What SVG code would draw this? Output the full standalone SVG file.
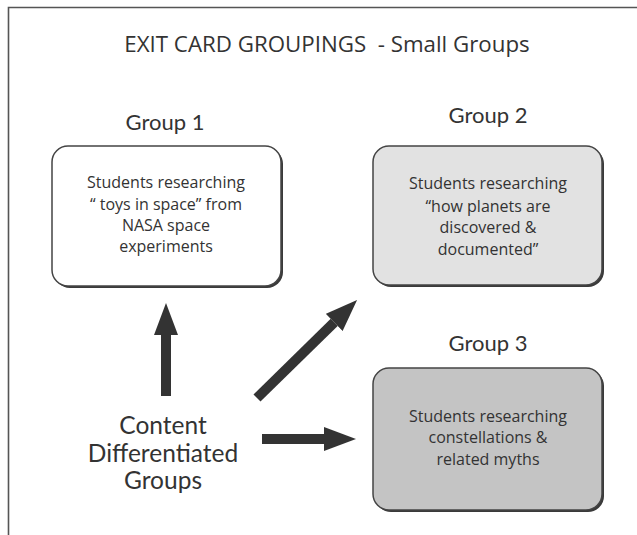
<svg xmlns="http://www.w3.org/2000/svg" width="637" height="535" viewBox="0 0 637 535">
<defs>
<style>
text{font-family:"Lato","Open Sans","Liberation Sans",sans-serif;fill:#333;text-anchor:middle}
.title{font-family:"Open Sans","Liberation Sans",sans-serif;font-size:22.3px}
.glabel{font-size:22px}
.body{font-family:"Open Sans","Liberation Sans",sans-serif;font-size:16px}
.big{font-size:24.5px}
.shadow{fill:#3a3a3a}
.box{stroke:#444;stroke-width:1.5}
.arrow{stroke:#333;stroke-width:10;fill:none;marker-end:url(#head)}
</style>
<marker id="head" markerUnits="userSpaceOnUse" viewBox="0 -12 32 24" refX="0" refY="0" markerWidth="32" markerHeight="24" orient="auto">
<path d="M0,-12 L32,0 L0,12 Z" fill="#333"/>
</marker>
</defs>
<rect width="637" height="535" fill="#fff"/>
<path d="M8.5,535 V7.5 H637" fill="none" stroke="#555" stroke-width="1.6"/>
<text class="title" x="327" y="52">EXIT CARD GROUPINGS&#160; - Small Groups</text>

<g id="group1">
<text class="glabel" x="165" y="130">Group 1</text>
<rect class="shadow" x="54" y="148" width="229" height="140" rx="16"/>
<rect class="box" x="52" y="146" width="229" height="140" rx="16" fill="#fff"/>
<text class="body" x="166" y="188">Students researching</text>
<text class="body" x="166" y="210">“ toys in space” from</text>
<text class="body" x="166" y="231">NASA space</text>
<text class="body" x="166" y="252">experiments</text>
</g>

<g id="group2">
<text class="glabel" x="488" y="123">Group 2</text>
<rect class="shadow" x="375" y="148" width="229" height="139" rx="16"/>
<rect class="box" x="373" y="146" width="229" height="139" rx="16" fill="#e2e2e2"/>
<text class="body" x="488" y="189">Students researching</text>
<text class="body" x="488" y="212">“how planets are</text>
<text class="body" x="488" y="233">discovered &amp;</text>
<text class="body" x="488" y="255">documented”</text>
</g>

<g id="group3">
<text class="glabel" x="488" y="351">Group 3</text>
<rect class="shadow" x="375" y="370" width="229" height="142" rx="16"/>
<rect class="box" x="373" y="368" width="229" height="142" rx="16" fill="#c4c4c4"/>
<text class="body" x="488" y="422">Students researching</text>
<text class="body" x="488" y="443">constellations &amp;</text>
<text class="body" x="488" y="465">related myths</text>
</g>

<g id="source">
<text class="big" x="163" y="434">Content</text>
<text class="big" x="163" y="462">Differentiated</text>
<text class="big" x="163" y="489">Groups</text>
</g>

<g id="connectors">
<line class="arrow" x1="166" y1="396" x2="166" y2="335"/>
<line class="arrow" x1="257" y1="398" x2="334.2" y2="322.4"/>
<line class="arrow" x1="262" y1="439" x2="324" y2="439"/>
</g>
</svg>
